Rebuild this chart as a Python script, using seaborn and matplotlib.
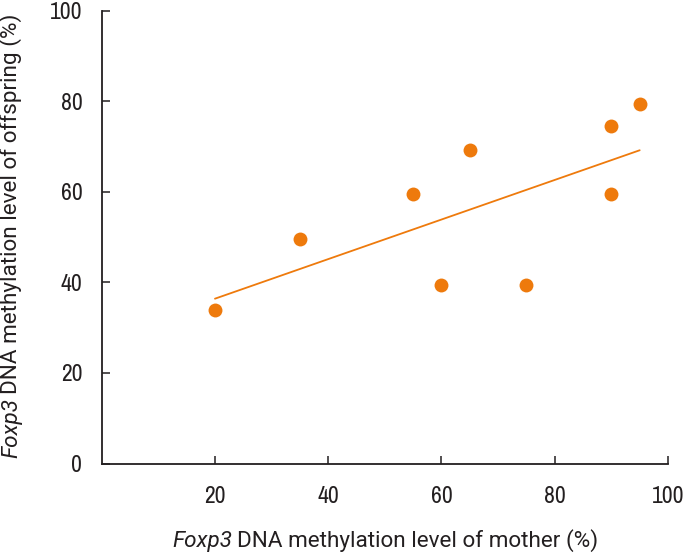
import matplotlib
matplotlib.use("Agg")
import matplotlib.pyplot as plt
from matplotlib import font_manager
import seaborn as sns
import pandas as pd

mother = [20, 35, 55, 60, 65, 75, 90, 90, 95]
offspring = [34, 49.5, 59.5, 39.5, 69.3, 39.5, 74.5, 59.5, 79.3]
xticks = [20, 40, 60, 80, 100]
yticks = [0, 20, 40, 60, 80, 100]
xlabel_it, xlabel_rest = "Foxp3", "DNA methylation level of mother (%)"
ylabel_it, ylabel_rest = "Foxp3", "DNA methylation level of offspring (%)"

# pick a condensed sans family if one is installed
names = sorted({f.name for f in font_manager.fontManager.ttflist})
cands = [n for n in names if ("Narrow" in n or "Condensed" in n)]
fam = cands[0] if cands else "Roboto"
label_fam = "Roboto"

sns.set_style("ticks")
plt.rcParams['font.family'] = [fam, 'DejaVu Sans']

df = pd.DataFrame({"mother": mother, "offspring": offspring})

W, H = 686, 554
fig = plt.figure(figsize=(W / 100, H / 100), dpi=100)
ax = fig.add_axes([101.7/W, 1 - 463.5/H, (668 - 101.7)/W, (463.5 - 10.7)/H])

orange = "#EE7A0C"
dark = "#231F20"
sns.regplot(data=df, x="mother", y="offspring", ci=None, ax=ax, color=orange,
            scatter_kws=dict(s=100, alpha=1, linewidths=0, zorder=3),
            line_kws=dict(lw=1.3, zorder=2))

ax.set_xlim(0, 100)
ax.set_ylim(0, 100)
ax.set_xticks(xticks)
ax.set_yticks(yticks)
ax.set_xticklabels([str(v) for v in xticks])
ax.set_yticklabels([str(v) for v in yticks])
ax.set_xlabel("")
ax.set_ylabel("")
for s in ["top", "right"]:
    ax.spines[s].set_visible(False)
for s in ["left", "bottom"]:
    ax.spines[s].set_linewidth(1.3)
    ax.spines[s].set_color(dark)
ax.tick_params(direction="in", length=6, width=1.1, colors=dark, labelsize=17)
ax.tick_params(axis="y", pad=14)
ax.tick_params(axis="x", pad=16)

renderer = fig.canvas.get_renderer()
GAP = 4.5  # px between italic gene name and the rest


def make(it, rest, fs, rot):
    kw = dict(fontsize=fs, family=[label_fam, 'DejaVu Sans'], color=dark, rotation=rot,
              rotation_mode="anchor", ha="left", va="baseline")
    t1 = fig.text(0, 0, it, style="italic", **kw)
    t2 = fig.text(0, 0, rest, **kw)
    return t1, t2


def two_part_label(it, rest, target_len, center, base, vertical):
    fs = 15.0
    rot = 90 if vertical else 0
    for _ in range(3):
        t1, t2 = make(it, rest, fs, rot)
        b1 = t1.get_window_extent(renderer)
        b2 = t2.get_window_extent(renderer)
        total = (b1.height + b2.height) if vertical else (b1.width + b2.width)
        t1.remove()
        t2.remove()
        fs = fs * (target_len - GAP) / total
    t1, t2 = make(it, rest, fs, rot)
    b1 = t1.get_window_extent(renderer)
    b2 = t2.get_window_extent(renderer)
    if vertical:
        l1, l2 = b1.height, b2.height
        start = center + (l1 + l2 + GAP) / 2
        t1.set_position((base / W, 1 - start / H))
        t2.set_position((base / W, 1 - (start - l1 - GAP) / H))
    else:
        l1, l2 = b1.width, b2.width
        start = center - (l1 + l2 + GAP) / 2
        t1.set_position((start / W, 1 - base / H))
        t2.set_position(((start + l1 + GAP) / W, 1 - base / H))


two_part_label(xlabel_it, xlabel_rest, 425, 385.5, 547, vertical=False)
two_part_label(ylabel_it, ylabel_rest, 445, 236, 17, vertical=True)

fig.savefig("out.png", dpi=100)
